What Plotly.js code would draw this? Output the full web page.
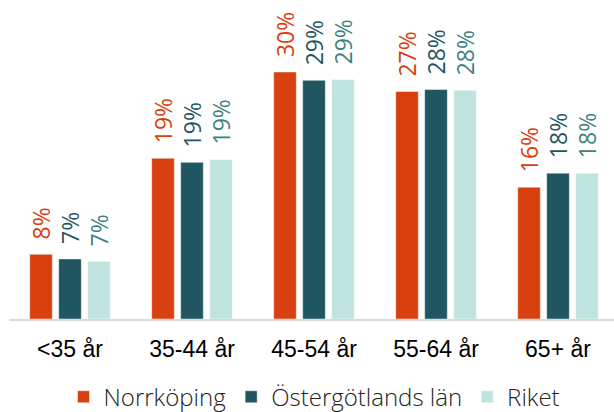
<!DOCTYPE html>
<html>
<head>
<meta charset="utf-8">
<script src="https://cdn.plot.ly/plotly-3.0.1.min.js"></script>
<style>html,body{margin:0;padding:0;background:#fff;}#chart{width:614px;height:412px;}</style>
</head>
<body>
<div id="chart"></div>
<script>
const categories = ["<35 år", "35-44 år", "45-54 år", "55-64 år", "65+ år"];
const seriesNames = ["Norrköping", "Östergötlands län", "Riket"];
const norrkoping = [7.8, 19.4, 29.8, 27.45, 15.9];
const ostergotland = [7.25, 18.9, 28.8, 27.7, 17.6];
const riket = [6.95, 19.25, 28.9, 27.6, 17.6];

const barColors = ["#D9400F", "#1F5661", "#BFE4E0"];
const labelColors = ["#D9400F", "#1F5661", "#3F8281"];
const seriesValues = [norrkoping, ostergotland, riket];

const labelFont = "Open Sans, DejaVu Sans, sans-serif";

const traces = seriesValues.map((vals, i) => ({
  type: "bar",
  name: seriesNames[i],
  x: categories,
  y: vals,
  marker: {color: barColors[i], line: {color: "rgba(255,255,255,0.45)", width: 1}},
  texttemplate: "\u00a0\u00a0%{y:.0f}%",
  textposition: "outside",
  textangle: -90,
  constraintext: "none",
  cliponaxis: false,
  textfont: {family: labelFont, size: 23, color: labelColors[i], weight: 400},
  hoverinfo: "skip"
}));

const layout = {
  width: 614,
  height: 412,
  margin: {l: 9, r: 0, t: 0, b: 92.5, autoexpand: false},
  paper_bgcolor: "#ffffff",
  plot_bgcolor: "#ffffff",
  barmode: "group",
  bargap: 0.287,
  bargroupgap: 0.22,
  showlegend: true,
  legend: {
    orientation: "h",
    x: 0.505, xanchor: "center",
    y: -0.245, yanchor: "middle",
    font: {family: labelFont, size: 24, color: "#222222", weight: 300},
    traceorder: "normal"
  },
  xaxis: {
    type: "category",
    range: [-0.5, 4.459],
    showgrid: false,
    zeroline: false,
    showline: true,
    linecolor: "#D9D9D9",
    linewidth: 2,
    ticks: "",
    ticklabelstandoff: 8,
    tickfont: {family: "Liberation Sans, Arial, sans-serif", size: 23, color: "#000000"}
  },
  yaxis: {
    range: [0, 38.49],
    visible: false,
    showgrid: false,
    zeroline: false,
    fixedrange: true
  }
};

Plotly.newPlot("chart", traces, layout, {displayModeBar: false, staticPlot: true});
</script>
</body>
</html>
